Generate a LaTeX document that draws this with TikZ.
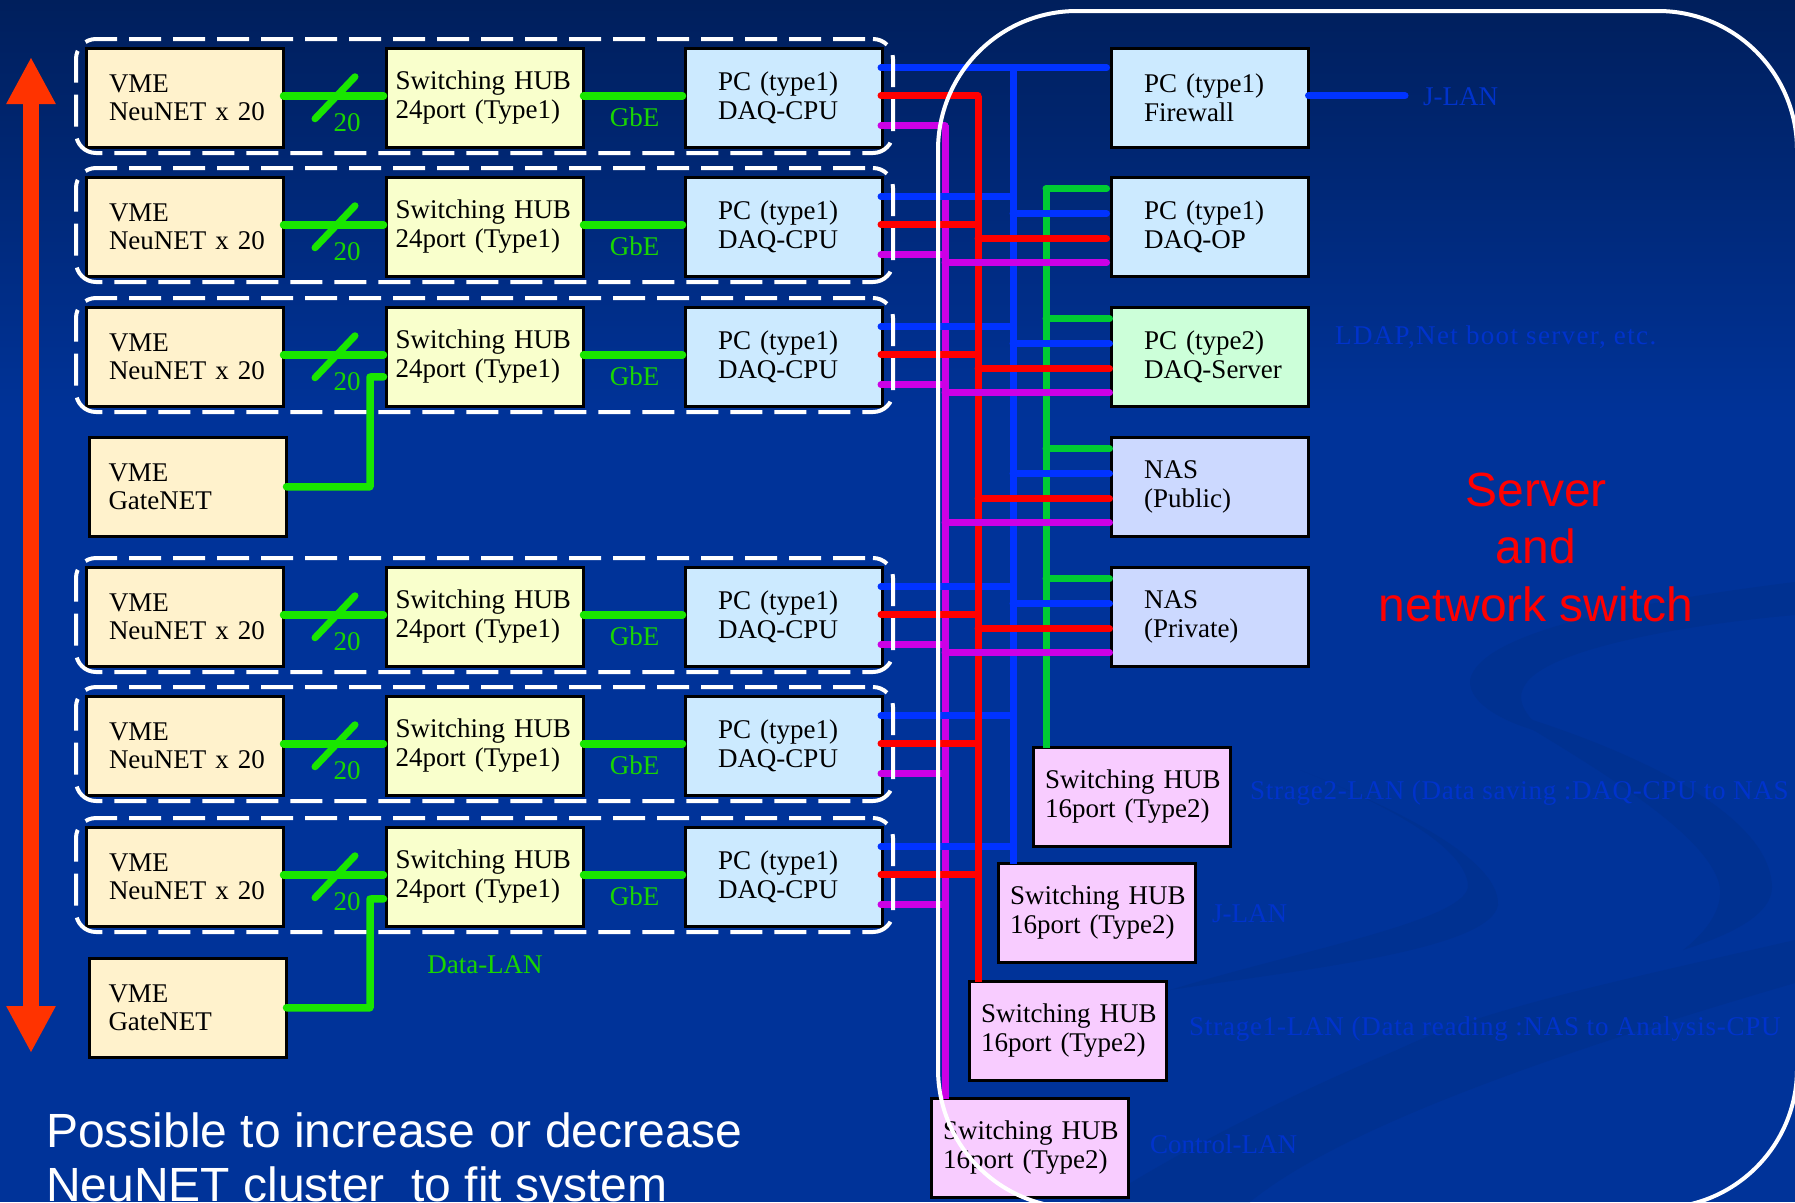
\documentclass[tikz,border=0pt]{standalone}
\usepackage{fontspec}
\setmainfont{Liberation Serif}
\newfontfamily\headfont{Liberation Sans}
\definecolor{BGblue}{HTML}{003399}
\definecolor{BGtop}{HTML}{001F5C}
\definecolor{BGswoosh}{HTML}{003191}
\definecolor{FaintBlue}{HTML}{0033CC}
\definecolor{WireBlue}{HTML}{0033FF}
\definecolor{WireRed}{HTML}{FF0000}
\definecolor{WirePurple}{HTML}{CC00E6}
\definecolor{WireGreen}{HTML}{00CC33}
\definecolor{DataGreen}{HTML}{19E600}
\definecolor{LabelGreen}{HTML}{19D600}
\definecolor{SpanRed}{HTML}{FF3300}
\definecolor{VMEfill}{HTML}{FFF2CC}
\definecolor{HUBfill}{HTML}{F9FFCC}
\definecolor{PCfill}{HTML}{CCEAFF}
\definecolor{SRVfill}{HTML}{CCFFD9}
\definecolor{NASfill}{HTML}{CCD9FF}
\definecolor{SWfill}{HTML}{F8CCFF}
\usetikzlibrary{arrows.meta,calc,positioning}
\tikzset{
  box/.style={draw=black,line width=3pt,anchor=north west,outer sep=0pt,inner sep=0pt,text width=197pt,minimum height=98.5pt,align=left,font=\fontsize{27}{28.5}\selectfont},
  vmebox/.style={box,fill=VMEfill,execute at begin node={\leftskip=#1pt\relax}},
  vmebox/.default=22.5,
  hubbox/.style={box,fill=HUBfill,execute at begin node={\leftskip=9pt\relax}},
  pcbox/.style={box,fill=#1,execute at begin node={\leftskip=32.5pt\relax}},
  pcbox/.default=PCfill,
  swbox/.style={box,fill=SWfill,execute at begin node={\leftskip=11.5pt\relax}},
  wire/.style={line width=7pt,line cap=round},
  datawire/.style={wire,DataGreen,line width=7.5pt,line join=round,shorten >=3pt},
  bus/.style={line width=7pt,line cap=butt},
  note/.style={font=\fontsize{27}{28.5}\selectfont\addfontfeature{LetterSpace=#1},FaintBlue,inner sep=0pt,anchor=west},
  note/.default=0,
  greenlabel/.style={font=\fontsize{27}{28.5}\selectfont,LabelGreen,inner sep=0pt},
  groupbox/.style={draw=white,line width=4pt,rounded corners=20pt,dash pattern=on 32pt off 12pt,dash phase=36pt,anchor=north west,outer sep=0pt,minimum width=817pt,minimum height=114pt,inner sep=0pt},
  headtext/.style={font=\headfont\fontsize{48}{57.5}\selectfont,inner sep=0pt}
}
\begin{document}
\begin{tikzpicture}[x=1pt,y=-1pt,>=Latex]
  \useasboundingbox (0,0) rectangle (1795,1202);
  % background
  \fill[BGblue] (0,0) rectangle (1795,1202);
  \shade[top color=BGtop,bottom color=BGblue] (0,0) rectangle (1795,420);
  \fill[BGswoosh] (1795,940) .. controls (1600,985) and (1480,1010) .. (1397,1050) .. controls (1300,1090) and (1180,1150) .. (1100,1202) -- (1250,1202) .. controls (1350,1120) and (1600,1040) .. (1795,983) -- cycle;
  \fill[BGswoosh] (1795,582) .. controls (1650,600) and (1480,630) .. (1470,680) .. controls (1468,705) and (1510,725) .. (1545,733) .. controls (1525,715) and (1515,700) .. (1525,685) .. controls (1545,650) and (1680,625) .. (1795,615) -- cycle;
  \fill[BGswoosh] (1500,710) .. controls (1620,745) and (1770,810) .. (1772,887) .. controls (1772,915) and (1730,935) .. (1683,950) .. controls (1715,925) and (1725,900) .. (1718,880) .. controls (1700,830) and (1600,770) .. (1500,710) -- cycle;
  \fill[BGswoosh] (1300,770) .. controls (1400,810) and (1500,860) .. (1498,905) .. controls (1490,950) and (1300,970) .. (1170,990) .. controls (1300,950) and (1470,920) .. (1468,885) .. controls (1465,850) and (1400,810) .. (1300,770) -- cycle;

  % nodes of the six NeuNET rows
  \foreach \i/\y in {1/48.5,2/177.5,3/307.5,4/567.5,5/696.5,6/827.5} {
    \node[vmebox] (vme\i) at (86.5,\y) {VME\\NeuNET x 20};
    \node[hubbox,right=103pt of vme\i.north east,anchor=north west] (hub\i) {Switching HUB\\24port (Type1)};
    \node[pcbox,right=102pt of hub\i.north east,anchor=north west] (pc\i) {PC (type1)\\DAQ-CPU};
  }
  \node[vmebox=19] (gate1) at (89.5,437.5) {VME\\GateNET};
  \node[vmebox=19] (gate2) at (89.5,958.5) {VME\\GateNET};

  \node[pcbox] (fw) at (1111.5,48.5) {PC (type1)\\Firewall};
  \node[pcbox] (daqop) at (1111.5,177.5) {PC (type1)\\DAQ-OP};
  \node[pcbox=SRVfill] (server) at (1111.5,307.5) {PC (type2)\\DAQ-Server};
  \node[pcbox=NASfill] (nas1) at (1111.5,437.5) {NAS\\(Public)};
  \node[pcbox=NASfill] (nas2) at (1111.5,567.5) {NAS\\(Private)};
  \node[swbox] (swstore2) at (1033.5,747.5) {Switching HUB\\16port (Type2)};
  \node[swbox] (swjlan) at (998.5,863.5) {Switching HUB\\16port (Type2)};
  \node[swbox] (swstore1) at (969.5,981.5) {Switching HUB\\16port (Type2)};
  \node[swbox] (swctrl) at (931.5,1098.5) {Switching HUB\\16port (Type2)};

  \coordinate (busP) at (945,125);
  \coordinate (busR) at (978,96);
  \coordinate (busB) at (1013,67);
  \coordinate (busG) at (1046,188);
  \coordinate (jlanend) at (1405,95);
  \coordinate (spantop) at (31,57);
  \coordinate (spanbot) at (31,1053);

  % buses
  \draw[bus,WirePurple] (busP) -- (busP |- swctrl.north);
  \draw[bus,WireBlue] (busB) -- (busB |- swjlan.north);
  \draw[bus,WireGreen] (busG) -- (busG |- swstore2.north);

  % row wiring
  \foreach \i in {1,...,6} {
    \draw[datawire] ([yshift=2pt]vme\i.east) -- ([yshift=2pt]hub\i.west);
    \draw[datawire] ([yshift=2pt]hub\i.east) -- ([yshift=2pt]pc\i.west);
    \draw[wire,DataGreen] ($(vme\i.east)!.5!(hub\i.west)$) ++(-20,21) -- ++(40,-42);
    \node[greenlabel] (count\i) at ($(vme\i.east)!.5!(hub\i.west)+(12,25)$) {20};
    \node[greenlabel] (gbe\i) at ($(hub\i.east)!.5!(pc\i.west)+(0,20)$) {GbE};
    \draw[wire,WirePurple] ([shift={(-1.5pt,-28pt)}]pc\i.east) -- ([yshift=-28pt]pc\i.east -| busP);
  }
  \foreach \i in {2,...,6}
    \draw[wire,WireBlue] ([shift={(-1.5pt,30pt)}]pc\i.east) -- ([yshift=30pt]pc\i.east -| busB);
  \draw[wire,WireBlue] ([shift={(-1.5pt,30pt)}]pc1.east) -- ([shift={(-5pt,30pt)}]pc1.east -| fw.west);
  \draw[wire,WireBlue] ([yshift=2pt]fw.east) -- ([yshift=2pt]fw.east -| jlanend);

  \draw[datawire] (gate1.east) -| (370,377) -- ([yshift=-20pt]hub3.west);
  \draw[datawire] (gate2.east) -| (370,899) -- ([yshift=-22pt]hub6.west);

  \foreach \n/\off in {daqop/-5pt,server/-2pt,nas1/-2pt,nas2/-2pt} {
    \draw[wire,WireGreen] ([yshift=38pt]\n.west -| busG) -- ([shift={(\off,38pt)}]\n.west);
    \draw[wire,WireBlue] ([yshift=13pt]\n.west -| busB) -- ([shift={(\off,13pt)}]\n.west);
  }
  % red and purple lie on top
  \foreach \i in {1,...,6}
    \draw[wire,WireRed] ([shift={(-1.5pt,2pt)}]pc\i.east) -- ([yshift=2pt]pc\i.east -| busR);
  \draw[bus,WireRed] (busR) -- (busR |- swstore1.north);
  \foreach \n/\off in {daqop/-5pt,server/-2pt,nas1/-2pt,nas2/-2pt} {
    \draw[wire,WireRed] ([yshift=-12pt]\n.west -| busR) -- ([shift={(\off,-12pt)}]\n.west);
    \draw[wire,WirePurple] ([yshift=-36pt]\n.west -| busP) -- ([shift={(\off,-36pt)}]\n.west);
  }

  \foreach \i in {1,...,6}
    \node[groupbox] (group\i) at ($(vme\i.north west)+(-10.5,-9.5)$) {};

  % frame of the server part
  \draw[white,line width=4pt,rounded corners=139pt] (938,11) rectangle (1797,1208);

  \draw[{Triangle[length=47pt,width=46pt]}-{Triangle[length=47pt,width=46pt]},line width=16pt,SpanRed] (spantop) -- (spanbot);

  % texts
  \node[greenlabel] (datalan) at (485,965) {Data-LAN};
  \node[note] (jlan1) at (1423,97) {J-LAN};
  \node[note=5] (ldap) at (1335,337) {LDAP,Net boot server, etc.};
  \node[note=2.7] (store2) at (1250,793) {Strage2-LAN (Data saving :DAQ-CPU to NAS};
  \node[note] (jlan2) at (1212,914) {J-LAN};
  \node[note=2.9] (store1) at (1189,1029) {Strage1-LAN (Data reading :NAS to Analysis-CPU};
  \node[note] (ctrl) at (1150,1144) {Control-LAN};
  \node[headtext,WireRed,align=center] (title) at (1536,547) {Server\\and\\network switch};
  \node[headtext,white,font=\headfont\fontsize{48}{54.5}\selectfont,align=left,anchor=north west] (possible) at (46,1112) {Possible to increase or decrease\\NeuNET cluster\ \ to fit system};
\end{tikzpicture}
\end{document}
